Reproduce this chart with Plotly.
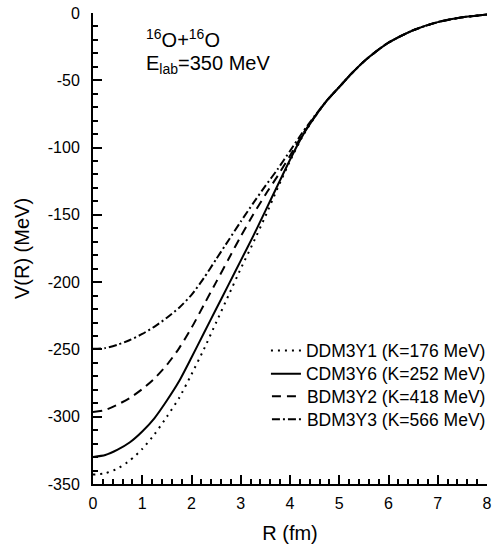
import plotly.graph_objects as go

# Radial grid (fm)
R = [0, 0.25, 0.5, 0.75, 1.0, 1.25, 1.5, 1.75, 2.0, 2.25, 2.5, 2.75, 3.0, 3.25,
     3.5, 3.75, 4.0, 4.25, 4.5, 4.75, 5.0, 5.25, 5.5, 5.75, 6.0, 6.5, 7.0, 7.5, 8.0]

# Potentials V(R) in MeV
V_DDM3Y1 = [-343, -342, -338.5, -332.5, -324, -313, -300, -286, -268.5, -250, -230, -210,
            -190, -171, -151, -130, -110, -92, -77.5, -65, -55, -45, -36, -28.5, -22,
            -12.8, -6.8, -3.2, -1.2]
V_CDM3Y6 = [-330, -328.5, -324.5, -319, -311, -301, -288, -273.5, -256, -238, -220, -202,
            -184, -166, -147, -128, -109, -91.5, -77.5, -65, -55, -45, -36, -28.5, -22,
            -12.8, -6.8, -3.2, -1.2]
V_BDM3Y2 = [-296.5, -295, -291, -286, -279.5, -271.5, -261.5, -249, -234, -217, -200, -183,
            -166, -150, -135, -121, -106, -90.5, -77, -65, -55, -45, -36, -28.5, -22,
            -12.8, -6.8, -3.2, -1.2]
V_BDM3Y3 = [-249.5, -249, -246.5, -243, -238.5, -233, -226.5, -219, -209.5, -197, -183, -169,
            -155, -141.5, -128.5, -116, -102.5, -89, -76.5, -65, -55, -45, -36, -28.5, -22,
            -12.8, -6.8, -3.2, -1.2]

names = ["DDM3Y1 (K=176 MeV)", "CDM3Y6 (K=252 MeV)", "BDM3Y2 (K=418 MeV)", "BDM3Y3 (K=566 MeV)"]
series = [V_DDM3Y1, V_CDM3Y6, V_BDM3Y2, V_BDM3Y3]
dashes = ["2px,5px", "solid", "9px,6px", "8px,3px,2px,3px"]

x_ticks = [0, 1, 2, 3, 4, 5, 6, 7, 8]
x_ticktext = ["0", "1", "2", "3", "4", "5", "6", "7", "8"]
y_ticks = [0, -50, -100, -150, -200, -250, -300, -350]
y_ticktext = ["0", "-50", "-100", "-150", "-200", "-250", "-300", "-350"]

FONT = "Liberation Sans, Arial, Helvetica, sans-serif"

# one legend box per entry, stacked from top to bottom
legend_ids = ["legend", "legend2", "legend3", "legend4"]
legend_rows_y = [0.283, 0.234, 0.186, 0.137]

fig = go.Figure()
for i, (nm, v, d) in enumerate(zip(names, series, dashes)):
    fig.add_trace(go.Scatter(
        x=R, y=v, mode="lines", name=nm, legend=legend_ids[i],
        line=dict(color="black", width=2, dash=d, shape="spline", smoothing=0.6),
    ))

fig.add_annotation(x=1.04, y=-19, xref="x", yref="y", xanchor="left", yanchor="middle",
                   text="<sup>16</sup>O+<sup>16</sup>O", showarrow=False,
                   font=dict(family=FONT, size=20, color="black"))
fig.add_annotation(x=1.04, y=-38.5, xref="x", yref="y", xanchor="left", yanchor="middle",
                   text="E<sub>lab</sub>=350 MeV", showarrow=False,
                   font=dict(family=FONT, size=20, color="black"))

axis_common = dict(
    showgrid=False, zeroline=False, showline=True, linecolor="black", linewidth=2,
    ticks="inside", ticklen=9, tickwidth=2, tickcolor="black",
    tickfont=dict(family=FONT, size=16, color="black"),
    automargin=False, tickmode="array", ticklabeloverflow="allow",
)

fig.update_xaxes(range=[0, 8], tickvals=x_ticks, ticktext=x_ticktext,
                 minor=dict(dtick=0.2, tick0=0, ticks="inside", ticklen=5, tickwidth=1.5, tickcolor="black"),
                 title=dict(text="R (fm)", font=dict(family=FONT, size=20, color="black"), standoff=15),
                 ticklabelstandoff=4,
                 **axis_common)
fig.update_yaxes(range=[-350, 0], tickvals=y_ticks, ticktext=y_ticktext,
                 minor=dict(dtick=10, tick0=0, ticks="inside", ticklen=5, tickwidth=1.5, tickcolor="black"),
                 title=dict(text="V(R) (MeV)", font=dict(family=FONT, size=20, color="black"), standoff=13),
                 ticklabelstandoff=8,
                 **axis_common)

legend_style = dict(x=1.01, xanchor="right", yanchor="middle",
                    bgcolor="rgba(0,0,0,0)", font=dict(family=FONT, size=17.5, color="black"),
                    itemwidth=30)
layout_legends = {lid: dict(y=yy, **legend_style) for lid, yy in zip(legend_ids, legend_rows_y)}

fig.update_layout(
    width=493, height=550,
    margin=dict(l=93, r=2, t=13, b=66),
    paper_bgcolor="white", plot_bgcolor="white",
    font=dict(family=FONT, color="black"),
    showlegend=True,
    **layout_legends,
)

fig.write_html("out.html")
